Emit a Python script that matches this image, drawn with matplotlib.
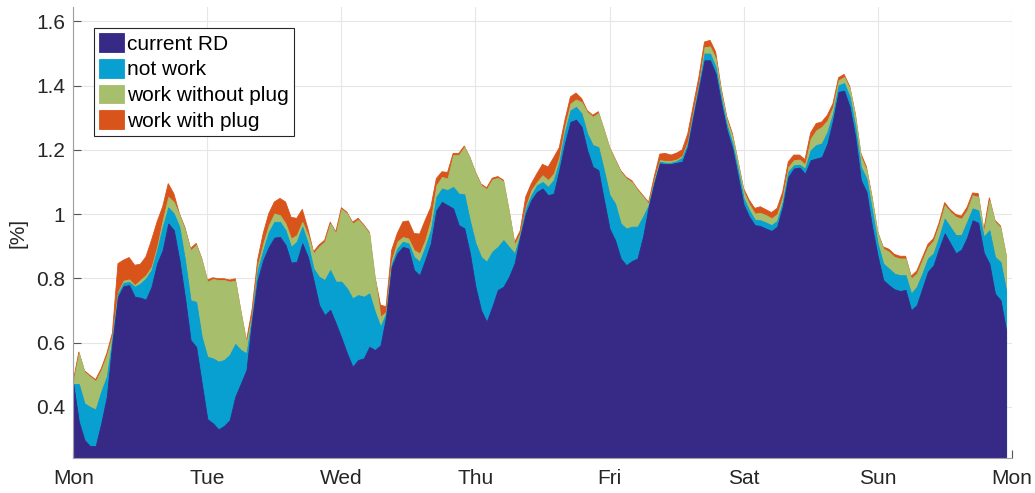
import matplotlib
matplotlib.use("Agg")
import matplotlib.pyplot as plt
import numpy as np

plt.rcParams["font.family"] = ["Liberation Sans", "DejaVu Sans"]

# Hourly load profile over one week [%], each scenario given as total level
days = ["Mon", "Tue", "Wed", "Thu", "Fri", "Sat", "Sun", "Mon"]

current_rd = [
    # Mon
    0.471, 0.354, 0.297, 0.278, 0.278, 0.349, 0.432, 0.600, 0.743, 0.776, 0.779, 0.743,
    0.740, 0.734, 0.774, 0.846, 0.888, 0.971, 0.950, 0.857, 0.740, 0.608, 0.587, 0.473,
    # Tue
    0.362, 0.349, 0.330, 0.341, 0.359, 0.432, 0.473, 0.515, 0.670, 0.795, 0.857, 0.898,
    0.927, 0.929, 0.904, 0.849, 0.852, 0.909, 0.867, 0.795, 0.717, 0.686, 0.702, 0.660,
    # Wed
    0.615, 0.567, 0.525, 0.546, 0.551, 0.587, 0.577, 0.592, 0.681, 0.836, 0.878, 0.898,
    0.893, 0.826, 0.810, 0.857, 0.909, 1.012, 1.038, 1.028, 1.018, 0.966, 0.956, 0.878,
    # Thu
    0.774, 0.701, 0.665, 0.712, 0.764, 0.774, 0.805, 0.847, 0.930, 1.002, 1.044, 1.069,
    1.080, 1.059, 1.064, 1.137, 1.220, 1.287, 1.294, 1.272, 1.199, 1.147, 1.137, 1.044,
    # Fri
    0.955, 0.919, 0.862, 0.841, 0.854, 0.862, 0.930, 1.023, 1.096, 1.158, 1.156, 1.156,
    1.160, 1.163, 1.210, 1.303, 1.391, 1.479, 1.479, 1.437, 1.344, 1.261, 1.204, 1.116,
    # Sat
    1.030, 0.992, 0.966, 0.963, 0.955, 0.948, 0.961, 1.023, 1.116, 1.142, 1.145, 1.126,
    1.168, 1.173, 1.178, 1.220, 1.292, 1.381, 1.384, 1.334, 1.240, 1.106, 1.069, 0.961,
    # Sun
    0.870, 0.795, 0.779, 0.766, 0.761, 0.764, 0.701, 0.717, 0.769, 0.821, 0.841, 0.893,
    0.940, 0.909, 0.878, 0.890, 0.927, 0.981, 0.973, 0.880, 0.846, 0.753, 0.732, 0.639,
]

not_work = [
    0.471, 0.471, 0.411, 0.400, 0.392, 0.448, 0.494, 0.615, 0.753, 0.786, 0.789, 0.774,
    0.784, 0.800, 0.826, 0.888, 0.960, 1.021, 1.002, 0.960, 0.857, 0.732, 0.727, 0.618,
    0.556, 0.551, 0.541, 0.546, 0.562, 0.596, 0.577, 0.567, 0.681, 0.826, 0.888, 0.945,
    0.976, 0.976, 0.950, 0.898, 0.914, 0.961, 0.909, 0.831, 0.805, 0.795, 0.826, 0.790,
    0.790, 0.769, 0.738, 0.748, 0.743, 0.753, 0.696, 0.650, 0.691, 0.846, 0.893, 0.914,
    0.909, 0.867, 0.852, 0.898, 0.950, 1.054, 1.080, 1.075, 1.085, 1.064, 1.062, 0.980,
    0.910, 0.867, 0.852, 0.883, 0.898, 0.919, 0.898, 0.878, 0.935, 1.018, 1.059, 1.090,
    1.100, 1.085, 1.106, 1.163, 1.256, 1.323, 1.334, 1.313, 1.251, 1.215, 1.209, 1.137,
    1.060, 1.033, 0.971, 0.955, 0.961, 0.961, 0.992, 1.028, 1.100, 1.163, 1.160, 1.160,
    1.165, 1.176, 1.220, 1.313, 1.401, 1.500, 1.500, 1.458, 1.360, 1.277, 1.220, 1.137,
    1.050, 1.012, 0.983, 0.981, 0.974, 0.966, 0.979, 1.038, 1.132, 1.152, 1.154, 1.142,
    1.199, 1.215, 1.220, 1.256, 1.313, 1.401, 1.408, 1.365, 1.272, 1.147, 1.111, 1.012,
    0.909, 0.846, 0.831, 0.815, 0.810, 0.810, 0.753, 0.774, 0.815, 0.862, 0.878, 0.929,
    0.986, 0.960, 0.935, 0.935, 0.976, 1.018, 1.012, 0.930, 0.950, 0.867, 0.851, 0.763,
]

work_without_plug = [
    0.478, 0.567, 0.509, 0.494, 0.481, 0.515, 0.561, 0.622, 0.758, 0.793, 0.797, 0.779,
    0.795, 0.810, 0.836, 0.898, 0.981, 1.054, 1.038, 0.997, 0.950, 0.888, 0.904, 0.857,
    0.790, 0.798, 0.795, 0.795, 0.790, 0.793, 0.693, 0.600, 0.686, 0.841, 0.909, 0.966,
    1.002, 0.997, 0.971, 0.924, 0.935, 0.976, 0.935, 0.878, 0.899, 0.914, 0.971, 0.940,
    1.016, 1.002, 0.971, 0.983, 0.963, 0.940, 0.800, 0.681, 0.696, 0.857, 0.914, 0.929,
    0.924, 0.888, 0.878, 0.919, 0.981, 1.090, 1.116, 1.111, 1.184, 1.184, 1.209, 1.174,
    1.127, 1.090, 1.078, 1.108, 1.113, 1.102, 1.008, 0.905, 0.940, 1.023, 1.075, 1.100,
    1.121, 1.106, 1.126, 1.178, 1.272, 1.344, 1.357, 1.349, 1.318, 1.303, 1.315, 1.261,
    1.205, 1.168, 1.132, 1.111, 1.100, 1.075, 1.054, 1.033, 1.106, 1.168, 1.166, 1.166,
    1.170, 1.181, 1.225, 1.318, 1.406, 1.520, 1.522, 1.484, 1.375, 1.292, 1.241, 1.158,
    1.070, 1.031, 1.002, 1.004, 0.997, 0.987, 1.000, 1.054, 1.147, 1.168, 1.170, 1.155,
    1.235, 1.261, 1.272, 1.292, 1.334, 1.417, 1.427, 1.391, 1.303, 1.178, 1.137, 1.044,
    0.940, 0.893, 0.883, 0.867, 0.862, 0.862, 0.800, 0.815, 0.857, 0.898, 0.917, 0.966,
    1.028, 1.007, 0.992, 0.986, 1.012, 1.059, 1.054, 0.945, 1.043, 0.976, 0.958, 0.867,
]

work_with_plug = [
    0.481, 0.571, 0.513, 0.498, 0.485, 0.519, 0.566, 0.630, 0.846, 0.857, 0.865, 0.841,
    0.844, 0.867, 0.919, 0.976, 1.023, 1.095, 1.064, 1.002, 0.958, 0.893, 0.909, 0.862,
    0.795, 0.802, 0.799, 0.799, 0.795, 0.799, 0.698, 0.605, 0.702, 0.857, 0.940, 1.002,
    1.038, 1.049, 1.038, 0.990, 0.987, 1.015, 0.955, 0.883, 0.904, 0.919, 0.975, 0.945,
    1.020, 1.006, 0.975, 0.987, 0.967, 0.944, 0.805, 0.717, 0.712, 0.888, 0.940, 0.976,
    0.979, 0.940, 0.938, 0.981, 1.021, 1.111, 1.132, 1.130, 1.189, 1.189, 1.212, 1.177,
    1.131, 1.094, 1.082, 1.112, 1.117, 1.106, 1.012, 0.912, 0.948, 1.054, 1.095, 1.126,
    1.155, 1.147, 1.176, 1.207, 1.292, 1.365, 1.377, 1.360, 1.323, 1.308, 1.319, 1.265,
    1.209, 1.172, 1.136, 1.115, 1.104, 1.079, 1.058, 1.037, 1.116, 1.187, 1.189, 1.184,
    1.190, 1.200, 1.250, 1.339, 1.427, 1.536, 1.541, 1.505, 1.391, 1.303, 1.251, 1.166,
    1.080, 1.044, 1.018, 1.023, 1.014, 1.005, 1.018, 1.069, 1.163, 1.184, 1.184, 1.170,
    1.253, 1.282, 1.287, 1.308, 1.344, 1.425, 1.435, 1.398, 1.313, 1.189, 1.147, 1.054,
    0.945, 0.898, 0.891, 0.875, 0.869, 0.869, 0.807, 0.823, 0.864, 0.906, 0.924, 0.973,
    1.036, 1.014, 0.999, 0.994, 1.021, 1.066, 1.064, 0.950, 1.051, 0.981, 0.963, 0.873,
]

t = np.arange(len(current_rd)) / 24.0

series = [
    ("current RD", current_rd, "#372a87"),
    ("not work", not_work, "#07a0d1"),
    ("work without plug", work_without_plug, "#a7be6c"),
    ("work with plug", work_with_plug, "#d9541a"),
]

fig = plt.figure(figsize=(10.35, 4.93), dpi=100)
ax = fig.add_axes([0.0708, 0.0704, 0.9067, 0.9155])

# draw the largest level first so the smaller ones sit on top
handles = {}
for name, level, color in reversed(series):
    handles[name] = ax.fill_between(t, 0, level, facecolor=color, edgecolor=color,
                                    linewidth=0.6, label=name)

ax.set_xlim(0, 7)
ax.set_ylim(0.24, 1.645)
ax.set_xticks(range(8))
ax.set_xticklabels(days)
ax.set_yticks([0.4, 0.6, 0.8, 1.0, 1.2, 1.4, 1.6])
ax.set_yticklabels(["0.4", "0.6", "0.8", "1", "1.2", "1.4", "1.6"])
ax.set_ylabel("[%]", fontsize=15, color="#262626", labelpad=6)

ax.set_axisbelow(True)
ax.grid(True, color="#e6e6e6", linewidth=0.8)
ax.tick_params(direction="in", length=6, width=0.8, color="#555555",
               labelsize=15, labelcolor="#262626", pad=6)
ax.tick_params(axis="x", pad=8)
for side in ["top", "right"]:
    ax.spines[side].set_visible(False)
for side in ["left", "bottom"]:
    ax.spines[side].set_color("#a0a0a0")
    ax.spines[side].set_linewidth(0.8)

leg = ax.legend([handles[s[0]] for s in series], [s[0] for s in series],
                loc="upper left", bbox_to_anchor=(0.022, 0.953), borderaxespad=0,
                fontsize=15, fancybox=False, framealpha=1, edgecolor="#262626",
                handlelength=1.2, handleheight=1.0, handletextpad=0.15,
                labelspacing=0.25, borderpad=0.25)
leg.get_frame().set_linewidth(0.8)

fig.savefig("out.png", dpi=100)
